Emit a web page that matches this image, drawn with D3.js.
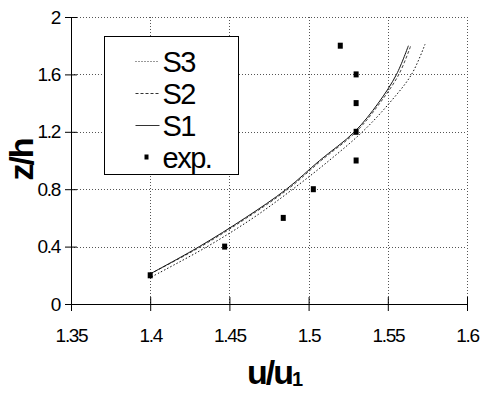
<!DOCTYPE html>
<html>
<head>
<meta charset="utf-8">
<script src="https://cdn.jsdelivr.net/npm/d3@7"></script>
<style>
  html, body { margin: 0; padding: 0; background: #fff; }
  svg { display: block; font-family: "Liberation Sans", Arial, sans-serif; }
  .grid line { stroke: #555; stroke-width: 1; stroke-dasharray: 1,2; shape-rendering: crispEdges; }
  .tick-label { font-size: 19px; letter-spacing: -1.3px; fill: #000; }
  .title { font-size: 34px; font-weight: bold; letter-spacing: -2px; fill: #000; }
  .legend-text { font-size: 29px; letter-spacing: -1.5px; fill: #000; }
</style>
</head>
<body>
<svg id="chart" width="484" height="395"></svg>
<script>
(function () {
  "use strict";

  const xTicks = [1.35, 1.4, 1.45, 1.5, 1.55, 1.6];
  const xTickLabels = ["1.35", "1.4", "1.45", "1.5", "1.55", "1.6"];
  const yTicks = [0, 0.4, 0.8, 1.2, 1.6, 2];
  const yTickLabels = ["0", "0.4", "0.8", "1.2", "1.6", "2"];

  // u/u1, z/h pairs
  const s1 = [[1.400, 0.21], [1.431, 0.40], [1.460, 0.60], [1.486, 0.80], [1.507, 1.00],
    [1.529, 1.20], [1.544, 1.40], [1.5555, 1.60], [1.563, 1.80]];
  const s2 = [[1.400, 0.21], [1.432, 0.40], [1.461, 0.60], [1.487, 0.80], [1.508, 1.00],
    [1.530, 1.20], [1.545, 1.40], [1.557, 1.60], [1.5645, 1.80]];
  const s3 = [[1.401, 0.19], [1.436, 0.40], [1.465, 0.60], [1.490, 0.80], [1.513, 1.00],
    [1.534, 1.20], [1.551, 1.40], [1.565, 1.60], [1.5735, 1.81]];

  const expU = [1.400, 1.447, 1.484, 1.503, 1.530, 1.530, 1.530, 1.530, 1.520];
  const expZ = [0.20, 0.40, 0.60, 0.80, 1.00, 1.20, 1.40, 1.60, 1.80];

  const legendItems = [
    { label: "S3", dash: "1,2" },
    { label: "S2", dash: "3,2" },
    { label: "S1", dash: null },
    { label: "exp.", dash: "marker" },
  ];

  const svg = d3.select("#chart");
  const left = 71, right = 467, top = 17, bottom = 304;

  const x = d3.scaleLinear().domain([1.35, 1.6]).range([left, right]);
  const y = d3.scaleLinear().domain([0, 2]).range([bottom, top]);
  const px = (v) => Math.round(v) + 0.5;

  // grid
  const grid = svg.append("g").attr("class", "grid");
  grid.selectAll("line.gx")
    .data(xTicks.slice(1))
    .join("line")
    .attr("class", "gx")
    .attr("x1", (d) => px(x(d))).attr("x2", (d) => px(x(d)))
    .attr("y1", top).attr("y2", bottom);
  grid.selectAll("line.gy")
    .data(yTicks.slice(1))
    .join("line")
    .attr("class", "gy")
    .attr("x1", left).attr("x2", right)
    .attr("y1", (d) => px(y(d))).attr("y2", (d) => px(y(d)));

  // axes
  const xAxis = d3.axisBottom(x)
    .tickValues(xTicks)
    .tickFormat((d, i) => xTickLabels[i])
    .tickSizeInner(7).tickSizeOuter(0).tickPadding(18);
  const gx = svg.append("g").attr("transform", `translate(0,${bottom})`).call(xAxis);
  gx.selectAll(".tick line").attr("y1", -7).attr("stroke", "#000");
  gx.select(".domain").attr("stroke", "#000");
  gx.selectAll(".tick text").attr("class", "tick-label").attr("font-size", null).attr("font-family", null);

  const yAxis = d3.axisLeft(y)
    .tickValues(yTicks)
    .tickFormat((d, i) => yTickLabels[i])
    .tickSizeInner(6).tickSizeOuter(0).tickPadding(5);
  const gy = svg.append("g").attr("transform", `translate(${left},0)`).call(yAxis);
  gy.selectAll(".tick line").attr("x1", 6).attr("stroke", "#000");
  gy.select(".domain").attr("stroke", "#000");
  gy.selectAll(".tick text").attr("class", "tick-label").attr("font-size", null).attr("font-family", null);

  // curves
  const line = d3.line()
    .x((d) => x(d[0]))
    .y((d) => y(d[1]))
    .curve(d3.curveCatmullRom);

  const series = [
    { data: s3, dash: "1.5,2", color: "#111" },
    { data: s2, dash: "3,2", color: "#444" },
    { data: s1, dash: null, color: "#111" },
  ];
  svg.append("g")
    .selectAll("path")
    .data(series)
    .join("path")
    .attr("d", (d) => line(d.data))
    .attr("fill", "none")
    .attr("stroke", (d) => d.color)
    .attr("stroke-width", 1)
    .attr("stroke-dasharray", (d) => d.dash);

  // experimental points
  svg.append("g")
    .selectAll("rect")
    .data(expU.map((u, i) => [u, expZ[i]]))
    .join("rect")
    .attr("x", (d) => x(d[0]) - 2.5)
    .attr("y", (d) => y(d[1]) - 3)
    .attr("width", 5)
    .attr("height", 6)
    .attr("fill", "#000");

  // legend
  const legend = svg.append("g").attr("transform", "translate(104.5,36.5)");
  legend.append("rect")
    .attr("width", 134).attr("height", 138)
    .attr("fill", "#fff").attr("stroke", "#000").attr("stroke-width", 1);
  const rows = legend.selectAll("g.row")
    .data(legendItems)
    .join("g")
    .attr("class", "row")
    .attr("transform", (d, i) => `translate(0,${25 + i * 32})`);
  rows.filter((d) => d.dash !== "marker")
    .append("line")
    .attr("x1", 31).attr("x2", 55)
    .attr("y1", 0).attr("y2", 0)
    .attr("stroke", "#333")
    .attr("stroke-dasharray", (d) => d.dash);
  rows.filter((d) => d.dash === "marker")
    .append("rect")
    .attr("x", 40).attr("y", -3).attr("width", 4).attr("height", 5).attr("fill", "#000");
  rows.append("text")
    .attr("class", "legend-text")
    .attr("x", 58)
    .attr("y", 10)
    .text((d) => d.label);

  // titles
  const xt = svg.append("text")
    .attr("class", "title")
    .attr("x", 247)
    .attr("y", 384);
  xt.append("tspan").text("u/u");
  xt.append("tspan").attr("font-size", 20).attr("dy", 2).text("1");

  svg.append("text")
    .attr("class", "title")
    .attr("transform", "translate(33,160) rotate(-90)")
    .attr("text-anchor", "middle")
    .text("z/h");
})();
</script>
</body>
</html>
